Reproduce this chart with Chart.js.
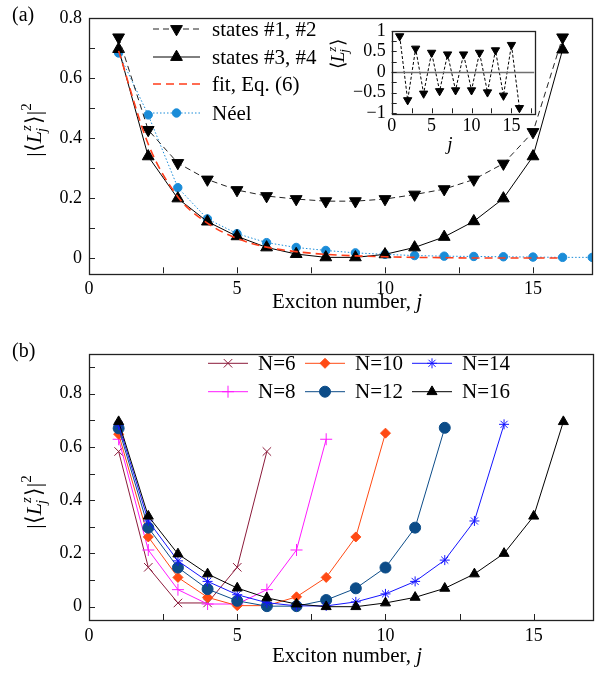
<!DOCTYPE html>
<html>
<head>
<meta charset="utf-8">
<script src="https://cdn.jsdelivr.net/npm/chart.js@4.4.0/dist/chart.umd.min.js"></script>
<style>
  html, body { margin: 0; padding: 0; background: #fff; }
  #wrap { position: relative; width: 600px; height: 673px; overflow: hidden; }
  .box { position: absolute; }
</style>
</head>
<body>
<div id="wrap">
  <div class="box" style="left:0;top:0;width:600px;height:336px"><canvas id="chartA"></canvas></div>
  <div class="box" style="left:0;top:336px;width:600px;height:337px"><canvas id="chartB"></canvas></div>
  <div class="box" style="left:320px;top:14px;width:220px;height:140px"><canvas id="inset"></canvas></div>
</div>
<script>
const fontFam = '"Liberation Serif", "Times New Roman", serif';

// exciton index j
const excitonJ = [1, 2, 3, 4, 5, 6, 7, 8, 9, 10, 11, 12, 13, 14, 15, 16, 17];

// panel (a)
const states12 = [0.735, 0.427, 0.317, 0.262, 0.227, 0.207, 0.197, 0.19, 0.19, 0.197, 0.212, 0.23, 0.262, 0.315, 0.42, 0.735];
const states34 = [0.696, 0.339, 0.199, 0.122, 0.073, 0.036, 0.014, 0.003, 0.003, 0.013, 0.036, 0.071, 0.123, 0.199, 0.339, 0.694];
const fitEq6   = [0.69, 0.38, 0.205, 0.117, 0.066, 0.037, 0.022, 0.013, 0.008, 0.005, 0.003, 0.002, 0.001, 0.001, 0.001, 0.001];
const neel     = [0.683, 0.477, 0.235, 0.131, 0.082, 0.052, 0.036, 0.026, 0.018, 0.013, 0.009, 0.007, 0.006, 0.005, 0.004, 0.003, 0.003];

// inset: <L_j^z> for states #1, #2
const insetLz = [0.87, -0.68, 0.57, -0.52, 0.47, -0.46, 0.43, -0.44, 0.43, -0.44, 0.47, -0.49, 0.53, -0.57, 0.66, -0.87];

// panel (b)
const chainN = ['N=6', 'N=8', 'N=10', 'N=12', 'N=14', 'N=16'];
const n6  = [0.583, 0.148, 0.014, 0.014, 0.148, 0.583];
const n8  = [0.629, 0.213, 0.064, 0.01, 0.01, 0.064, 0.213, 0.629];
const n10 = [0.648, 0.262, 0.11, 0.035, 0.004, 0.004, 0.037, 0.11, 0.262, 0.652];
const n12 = [0.67, 0.297, 0.147, 0.066, 0.022, 0.002, 0.002, 0.025, 0.069, 0.147, 0.297, 0.672];
const n14 = [0.683, 0.322, 0.172, 0.095, 0.045, 0.015, 0.003, 0.003, 0.018, 0.048, 0.095, 0.175, 0.322, 0.685];
const n16 = [0.695, 0.34, 0.198, 0.123, 0.07, 0.033, 0.01, 0.0, 0.0, 0.014, 0.035, 0.069, 0.123, 0.2, 0.34, 0.695];

const xTicksMain = [0, 5, 10, 15];
const yTicksMain = [0, 0.2, 0.4, 0.6, 0.8];
const xTicksInset = [0, 5, 10, 15];
const yTicksInset = [-1, -0.5, 0, 0.5, 1];

function pts(vals) { return vals.map((v, i) => ({ x: excitonJ[i], y: v })); }

function F(size, italic) { return (italic ? 'italic ' : '') + size + 'px ' + fontFam; }

// |<L_j^z>|^2 label, rotated
function drawLz(ctx, cx, cy, size, squared) {
  const sm = Math.round(size * 0.68);
  const open = squared ? '|\u27E8' : '\u27E8';
  const close = squared ? '\u27E9|' : '\u27E9';
  ctx.save();
  ctx.translate(cx, cy);
  ctx.rotate(-Math.PI / 2);
  ctx.textBaseline = 'alphabetic';
  ctx.textAlign = 'left';
  ctx.fillStyle = '#000';
  ctx.font = F(size); const w1 = ctx.measureText(open).width;
  ctx.font = F(size, true); const wL = ctx.measureText('L').width;
  ctx.font = F(sm, true); const wS = Math.max(ctx.measureText('j').width, ctx.measureText('z').width) + 1;
  ctx.font = F(size); const w3 = ctx.measureText(close).width;
  ctx.font = F(sm); const w4 = squared ? ctx.measureText('2').width : 0;
  let x = -(w1 + wL + wS + w3 + w4) / 2;
  const base = size * 0.35;
  ctx.font = F(size); ctx.fillText(open, x, base); x += w1;
  ctx.font = F(size, true); ctx.fillText('L', x, base); x += wL;
  ctx.font = F(sm, true);
  ctx.fillText('z', x, base - size * 0.42);
  ctx.fillText('j', x - 1, base + size * 0.25);
  x += wS;
  ctx.font = F(size); ctx.fillText(close, x, base); x += w3;
  if (squared) { ctx.font = F(sm); ctx.fillText('2', x, base - size * 0.45); }
  ctx.restore();
}

function drawXTitle(ctx, cx, cy, size) {
  ctx.save();
  ctx.textBaseline = 'middle';
  ctx.textAlign = 'left';
  ctx.fillStyle = '#000';
  ctx.font = F(size); const a = 'Exciton number, '; const wa = ctx.measureText(a).width;
  ctx.font = F(size, true); const wb = ctx.measureText('j').width;
  let x = cx - (wa + wb) / 2;
  ctx.font = F(size); ctx.fillText(a, x, cy);
  ctx.font = F(size, true); ctx.fillText('j', x + wa, cy);
  ctx.restore();
}

function drawMarker(ctx, ds, x, y) {
  if (!ds.pointRadius) return;
  ctx.save();
  ctx.setLineDash([]);
  ctx.fillStyle = ds.pointBackgroundColor || ds.borderColor;
  ctx.strokeStyle = ds.pointBorderColor || ds.borderColor;
  ctx.lineWidth = ds.pointBorderWidth || 1;
  if (Chart.helpers && Chart.helpers.drawPoint) {
    Chart.helpers.drawPoint(ctx, {
      pointStyle: ds.pointStyle, rotation: ds.pointRotation || 0,
      radius: ds.pointRadius, borderWidth: ds.pointBorderWidth || 1
    }, x, y);
  } else {
    ctx.beginPath(); ctx.arc(x, y, ds.pointRadius, 0, Math.PI * 2); ctx.fill();
  }
  ctx.restore();
}

function drawLegendEntry(ctx, ds, e) {
  ctx.save();
  ctx.strokeStyle = ds.borderColor;
  ctx.lineWidth = ds.borderWidth || 1;
  ctx.setLineDash(ds.borderDash || []);
  ctx.beginPath(); ctx.moveTo(e.x1, e.y); ctx.lineTo(e.x2, e.y); ctx.stroke();
  ctx.restore();
  drawMarker(ctx, ds, (e.x1 + e.x2) / 2, e.y);
  ctx.save();
  ctx.fillStyle = '#000';
  ctx.font = F(e.size || 21);
  ctx.textBaseline = 'middle';
  ctx.textAlign = 'left';
  ctx.fillText(ds.label, e.tx, e.y + 1);
  ctx.restore();
}

// frame with inward ticks
const framePlugin = {
  id: 'frame',
  afterDatasetsDraw(chart, args, o) {
    const { ctx, chartArea: a, scales: { x, y } } = chart;
    ctx.save();
    if (o.zero) {
      const py = Math.round(y.getPixelForValue(0)) + 0.5;
      ctx.strokeStyle = '#707070'; ctx.lineWidth = 1.4;
      ctx.beginPath(); ctx.moveTo(a.left, py); ctx.lineTo(a.right, py); ctx.stroke();
    }
    ctx.strokeStyle = '#222';
    ctx.lineWidth = 1.3;
    ctx.strokeRect(Math.round(a.left) + 0.5, Math.round(a.top) + 0.5,
      Math.round(a.right - a.left), Math.round(a.bottom - a.top));
    ctx.lineWidth = 1;
    ctx.beginPath();
    for (let v = o.x0; v <= x.max + 1e-9; v += o.xs) {
      const px = Math.round(x.getPixelForValue(v)) + 0.5;
      ctx.moveTo(px, a.bottom); ctx.lineTo(px, a.bottom - o.len);
    }
    for (let v = o.y0; v <= y.max + 1e-9; v += o.ys) {
      const py = Math.round(y.getPixelForValue(v)) + 0.5;
      ctx.moveTo(a.left, py); ctx.lineTo(a.left + o.len, py);
    }
    ctx.stroke();
    ctx.restore();
  }
};

const textPlugin = {
  id: 'texts',
  afterDraw(chart, args, o) {
    const ctx = chart.ctx;
    if (o.panel) {
      ctx.save();
      ctx.fillStyle = '#000'; ctx.font = F(20);
      ctx.textBaseline = 'middle'; ctx.textAlign = 'left';
      ctx.fillText(o.panel[0], o.panel[1], o.panel[2]);
      ctx.restore();
    }
    if (o.xTitle) {
      if (o.xTitle.plain) {
        ctx.save();
        ctx.fillStyle = '#000'; ctx.font = F(o.xTitle.size, true);
        ctx.textBaseline = 'middle'; ctx.textAlign = 'center';
        ctx.fillText(o.xTitle.plain, o.xTitle.x, o.xTitle.y);
        ctx.restore();
      } else {
        drawXTitle(ctx, o.xTitle.x, o.xTitle.y, o.xTitle.size);
      }
    }
    if (o.yTitle) drawLz(ctx, o.yTitle.x, o.yTitle.y, o.yTitle.size, o.yTitle.squared);
    (o.legend || []).forEach(e => drawLegendEntry(ctx, chart.data.datasets[e.ds], e));
  }
};

function xScale(max, height, ticks, size, pad) {
  return {
    type: 'linear', min: 0, max: max,
    afterBuildTicks: s => { s.ticks = ticks.map(v => ({ value: v })); },
    afterFit: s => { s.height = height; },
    grid: { display: false, drawTicks: false },
    border: { display: false },
    ticks: { font: { family: fontFam, size: size }, color: '#000', padding: pad, maxRotation: 0, autoSkip: false }
  };
}
function yScale(min, max, width, ticks, size, pad, fmt) {
  return {
    type: 'linear', min: min, max: max,
    afterBuildTicks: s => { s.ticks = ticks.map(v => ({ value: v })); },
    afterFit: s => { s.width = width; },
    grid: { display: false, drawTicks: false },
    border: { display: false },
    ticks: { font: { family: fontFam, size: size }, color: '#000', padding: pad, autoSkip: false, callback: fmt }
  };
}
const fmtMain = v => (v === 0 ? '0' : String(Math.round(v * 10) / 10));
const fmtInset = v => (v < 0 ? '\u2212' + String(-v) : String(v));

const common = {
  responsive: true, maintainAspectRatio: false, animation: false, events: [],
  plugins: { legend: { display: false }, tooltip: { enabled: false } }
};

// ---------- panel (a)
new Chart(document.getElementById('chartA'), {
  type: 'line',
  data: {
    datasets: [
      { label: 'states #1, #2', data: pts(states12), borderColor: '#222', borderWidth: 1, borderDash: [6, 4],
        pointStyle: 'triangle', pointRotation: 180, pointRadius: 6.8, pointBackgroundColor: '#000', pointBorderColor: '#000', order: 1 },
      { label: 'states #3, #4', data: pts(states34), borderColor: '#000', borderWidth: 1,
        pointStyle: 'triangle', pointRadius: 6.8, pointBackgroundColor: '#000', pointBorderColor: '#000', order: 2 },
      { label: 'fit, Eq. (6)', data: pts(fitEq6), borderColor: '#ff3d1a', borderWidth: 1.6, borderDash: [8, 5],
        pointRadius: 0, cubicInterpolationMode: 'monotone', order: 0 },
      { label: 'N\u00e9el', data: pts(neel), borderColor: '#1a8cd8', borderWidth: 1, borderDash: [1.5, 2],
        pointStyle: 'circle', pointRadius: 4.2, pointBackgroundColor: '#1a8cd8', pointBorderColor: '#1a8cd8', order: 3 }
    ]
  },
  options: Object.assign({}, common, {
    layout: { padding: { top: 15, right: 0, left: 0, bottom: 0 } },
    scales: {
      x: xScale(17, 62.7, xTicksMain, 18, 5),
      y: yScale(-0.05, 0.8, 89, yTicksMain, 18, 7, fmtMain)
    },
    plugins: Object.assign({}, common.plugins, {
      frame: { x0: 0, xs: 2.5, y0: 0, ys: 0.1, len: 6 },
      texts: {
        panel: ['(a)', 12, 16],
        xTitle: { x: 347, y: 302, size: 21 },
        yTitle: { x: 33, y: 130, size: 22, squared: true },
        legend: [
          { ds: 0, x1: 153, x2: 200, tx: 212, y: 29 },
          { ds: 1, x1: 153, x2: 200, tx: 212, y: 57 },
          { ds: 2, x1: 153, x2: 200, tx: 212, y: 84 },
          { ds: 3, x1: 153, x2: 200, tx: 212, y: 113 }
        ]
      }
    })
  }),
  plugins: [framePlugin, textPlugin]
});

// ---------- inset
new Chart(document.getElementById('inset'), {
  type: 'line',
  data: {
    datasets: [
      { label: 'Lz', data: pts(insetLz), borderColor: '#000', borderWidth: 1, borderDash: [3, 2],
        pointStyle: 'triangle', pointRotation: 180, pointRadius: 4.8, pointBackgroundColor: '#000', pointBorderColor: '#000' }
    ]
  },
  options: Object.assign({}, common, {
    layout: { padding: { top: 10, right: 5.5, left: 0, bottom: 0 } },
    scales: {
      x: xScale(17.85, 40.7, xTicksInset, 18, 2),
      y: yScale(-1, 1, 71.7, yTicksInset, 18, 6, fmtInset)
    },
    plugins: Object.assign({}, common.plugins, {
      frame: { x0: 0, xs: 2.5, y0: -1, ys: 0.25, len: 5, zero: true },
      texts: {
        xTitle: { plain: 'j', x: 130, y: 131, size: 19 },
        yTitle: { x: 17, y: 40, size: 19, squared: false }
      }
    })
  }),
  plugins: [framePlugin, textPlugin]
});

// ---------- panel (b)
const colsB = ['#8b1a3a', '#ff1aff', '#ff4a14', '#0c4c88', '#1414ff', '#000000'];
const seriesB = [n6, n8, n10, n12, n14, n16];
const stylesB = [
  { pointStyle: 'crossRot', pointRadius: 6 },
  { pointStyle: 'cross', pointRadius: 6 },
  { pointStyle: 'rectRot', pointRadius: 5 },
  { pointStyle: 'circle', pointRadius: 5.5 },
  { pointStyle: 'star', pointRadius: 5 },
  { pointStyle: 'triangle', pointRadius: 5.8 }
];
new Chart(document.getElementById('chartB'), {
  type: 'line',
  data: {
    datasets: seriesB.map((s, i) => Object.assign({
      label: chainN[i], data: pts(s), borderColor: colsB[i], borderWidth: 1,
      pointBackgroundColor: colsB[i], pointBorderColor: colsB[i], pointBorderWidth: 1, order: 5 - i
    }, stylesB[i]))
  },
  options: Object.assign({}, common, {
    layout: { padding: { top: 16.7, right: 0, left: 0, bottom: 0 } },
    scales: {
      x: xScale(17, 53, xTicksMain, 18, 5),
      y: yScale(-0.05, 0.95, 89, yTicksMain, 18, 7, fmtMain)
    },
    plugins: Object.assign({}, common.plugins, {
      frame: { x0: 0, xs: 2.5, y0: 0, ys: 0.1, len: 6 },
      texts: {
        panel: ['(b)', 12, 16],
        xTitle: { x: 347, y: 320, size: 21 },
        yTitle: { x: 33, y: 166, size: 22, squared: true },
        legend: [
          { ds: 0, x1: 208, x2: 248, tx: 258, y: 27.3 },
          { ds: 1, x1: 208, x2: 248, tx: 258, y: 55.7 },
          { ds: 2, x1: 305, x2: 345, tx: 355, y: 27.3 },
          { ds: 3, x1: 305, x2: 345, tx: 355, y: 55.7 },
          { ds: 4, x1: 412, x2: 452, tx: 462, y: 27.3 },
          { ds: 5, x1: 412, x2: 452, tx: 462, y: 55.7 }
        ]
      }
    })
  }),
  plugins: [framePlugin, textPlugin]
});
</script>
</body>
</html>
